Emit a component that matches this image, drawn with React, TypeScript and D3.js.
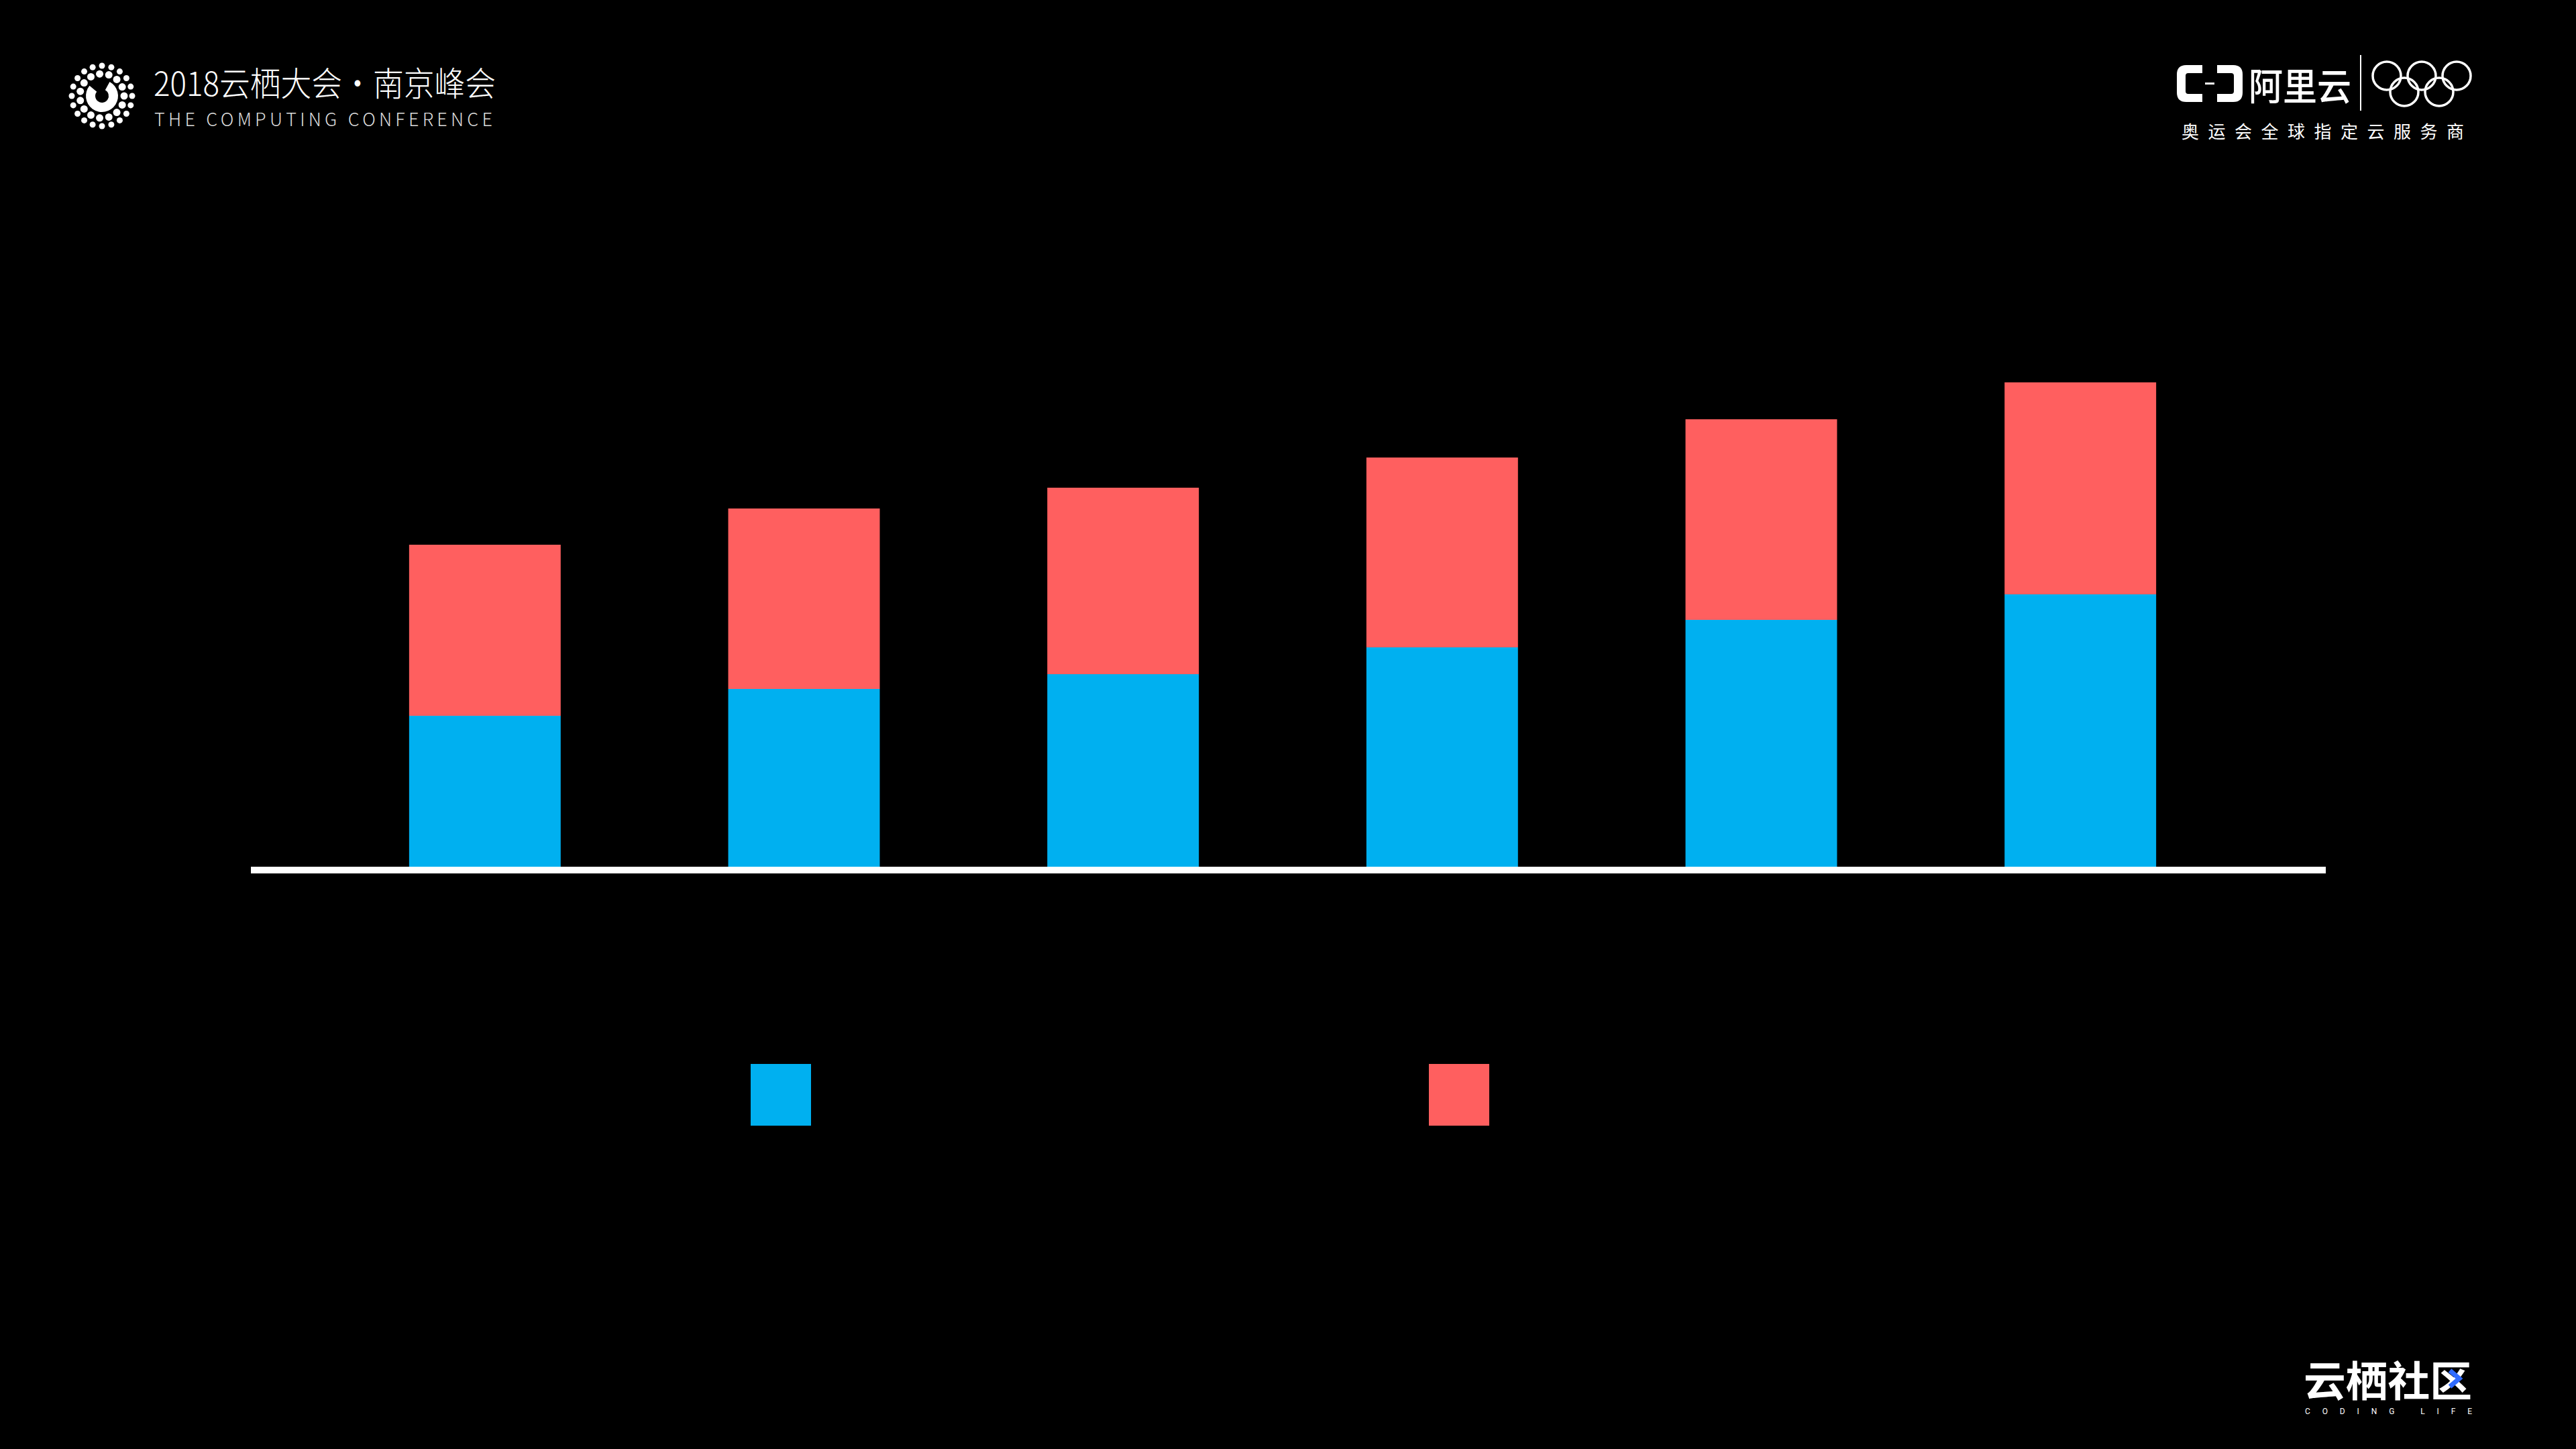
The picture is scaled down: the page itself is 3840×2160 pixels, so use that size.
import * as d3 from 'd3';
import { useRef, useEffect } from 'react';

// chart data (no axis labels in the source)
const categories = ['1', '2', '3', '4', '5', '6'];
const seriesKeys = ['blue', 'red'];
const blueValues = [226, 266, 288, 328, 369, 407];
const redValues = [255, 269, 278, 283, 299, 316];
const seriesColors = ['#00B0F0', '#FF5F5F'];

const W = 3840;
const H = 2160;

const App = () => {
	const ref: any = useRef();

	useEffect(() => {
		document.body.style.margin = '0';
		document.body.style.background = '#000';
		draw();
	}, []);

	const draw = () => {
		const svg = d3.select(ref.current);
		svg.selectAll('*').remove();

		svg.append('rect').attr('width', W).attr('height', H).attr('fill', '#000');

		const rows = categories.map((c, i) => ({ cat: c, blue: blueValues[i], red: redValues[i] }));
		const stacked = d3.stack<any>().keys(seriesKeys)(rows);

		const x = d3.scaleBand()
			.domain(categories)
			.range([485, 3339])
			.paddingInner(0.525)
			.paddingOuter(0.2625);

		const y = d3.scaleLinear()
			.domain([0, 1000])
			.range([1293, 293]);

		const color = d3.scaleOrdinal<string>().domain(seriesKeys).range(seriesColors);

		svg.append('g')
			.selectAll('g')
			.data(stacked)
			.enter()
			.append('g')
			.attr('fill', (d: any) => color(d.key))
			.selectAll('rect')
			.data((d: any) => d)
			.enter()
			.append('rect')
			.attr('x', (d: any) => x(d.data.cat) as number)
			.attr('y', (d: any) => y(d[1]))
			.attr('width', x.bandwidth())
			.attr('height', (d: any) => y(d[0]) - y(d[1]));

		// baseline
		svg.append('line')
			.attr('x1', 374).attr('x2', 3467)
			.attr('y1', 1297).attr('y2', 1297)
			.attr('stroke', '#fff')
			.attr('stroke-width', 10);

		// legend swatches (labels are not visible in the source)
		const legendX = [1119, 2130];
		svg.append('g')
			.selectAll('rect')
			.data(seriesKeys)
			.enter()
			.append('rect')
			.attr('x', (d, i) => legendX[i])
			.attr('y', 1586)
			.attr('width', 90)
			.attr('height', 92)
			.attr('fill', d => color(d));

		drawHeader(svg);
	};

	const drawHeader = (svg: any) => {
		const cjk = '"Noto Sans CJK SC", "Noto Sans", sans-serif';

		// left: dotted circle logo
		const logo = svg.append('g').attr('transform', 'translate(152,143)').attr('fill', '#fff');
		const rings = [
			{ r: 45, n: 20, s: 4.5 },
			{ r: 33, n: 15, s: 5.5 },
		];
		rings.forEach(rg => {
			d3.range(rg.n).forEach(k => {
				const a = (k / rg.n) * Math.PI * 2;
				logo.append('circle')
					.attr('cx', Math.cos(a) * rg.r)
					.attr('cy', Math.sin(a) * rg.r)
					.attr('r', rg.s);
			});
		});
		logo.append('path')
			.attr('d', d3.arc()({ innerRadius: 10, outerRadius: 24, startAngle: 0.5, endAngle: 5.4 } as any) as string)
			.attr('fill', '#fff');

		svg.append('text')
			.attr('x', 229).attr('y', 143)
			.attr('font-family', cjk)
			.attr('font-weight', 300)
			.attr('font-size', 50)
			.attr('textLength', 510)
			.attr('lengthAdjust', 'spacingAndGlyphs')
			.attr('fill', '#fff')
			.text('2018云栖大会·南京峰会');
		svg.append('text')
			.attr('x', 230).attr('y', 188)
			.attr('font-family', cjk)
			.attr('font-weight', 300)
			.attr('font-size', 27)
			.attr('textLength', 504)
			.attr('lengthAdjust', 'spacing')
			.attr('fill', '#ddd')
			.text('THE COMPUTING CONFERENCE');

		// right: aliyun + olympic rings
		const br = svg.append('g').attr('fill', '#fff');
		br.append('path').attr('d',
			'M3283,97 L3259,97 Q3245,97 3245,111 L3245,138 Q3245,152 3259,152 L3283,152 L3283,140 L3262,140 Q3258,140 3258,136 L3258,113 Q3258,109 3262,109 L3283,109 Z');
		br.append('path').attr('d',
			'M3305,97 L3329,97 Q3343,97 3343,111 L3343,138 Q3343,152 3329,152 L3305,152 L3305,140 L3326,140 Q3330,140 3330,136 L3330,113 Q3330,109 3326,109 L3305,109 Z');
		br.append('rect').attr('x', 3287).attr('y', 123).attr('width', 14).attr('height', 3);

		svg.append('text')
			.attr('x', 3352).attr('y', 149)
			.attr('font-family', cjk)
			.attr('font-weight', 500)
			.attr('font-size', 56)
			.attr('textLength', 153)
			.attr('lengthAdjust', 'spacingAndGlyphs')
			.attr('fill', '#fff')
			.text('阿里云');
		svg.append('line')
			.attr('x1', 3519).attr('x2', 3519)
			.attr('y1', 82).attr('y2', 165)
			.attr('stroke', '#fff').attr('stroke-width', 2);

		const ringCenters = [[3558, 113], [3610, 113], [3662, 113], [3584, 137], [3636, 137]];
		svg.append('g')
			.selectAll('circle')
			.data(ringCenters)
			.enter()
			.append('circle')
			.attr('cx', (d: any) => d[0])
			.attr('cy', (d: any) => d[1])
			.attr('r', 21)
			.attr('fill', 'none')
			.attr('stroke', '#fff')
			.attr('stroke-width', 3.5);

		svg.append('text')
			.attr('x', 3252).attr('y', 206)
			.attr('font-family', cjk)
			.attr('font-size', 26)
			.attr('textLength', 421)
			.attr('lengthAdjust', 'spacing')
			.attr('fill', '#fff')
			.text('奥运会全球指定云服务商');

		// bottom right: community logo
		svg.append('text')
			.attr('x', 3434).attr('y', 2082)
			.attr('font-family', cjk)
			.attr('font-weight', 700)
			.attr('font-size', 62)
			.attr('textLength', 251)
			.attr('lengthAdjust', 'spacingAndGlyphs')
			.attr('fill', '#fff')
			.text('云栖社区');
		svg.append('path')
			.attr('d', 'M3652,2043 L3666,2055 L3652,2067')
			.attr('fill', 'none')
			.attr('stroke', '#2F6BFF')
			.attr('stroke-width', 7);
		svg.append('text')
			.attr('x', 3436).attr('y', 2108)
			.attr('font-family', 'Roboto, sans-serif')
			.attr('font-size', 12)
			.attr('textLength', 249)
			.attr('lengthAdjust', 'spacing')
			.attr('fill', '#fff')
			.text('CODING LIFE');
	};

	return (
		<div className="chart">
			<svg ref={ref} width={W} height={H} style={{ display: 'block' }}>
			</svg>
		</div>
	);
};

export default App;
